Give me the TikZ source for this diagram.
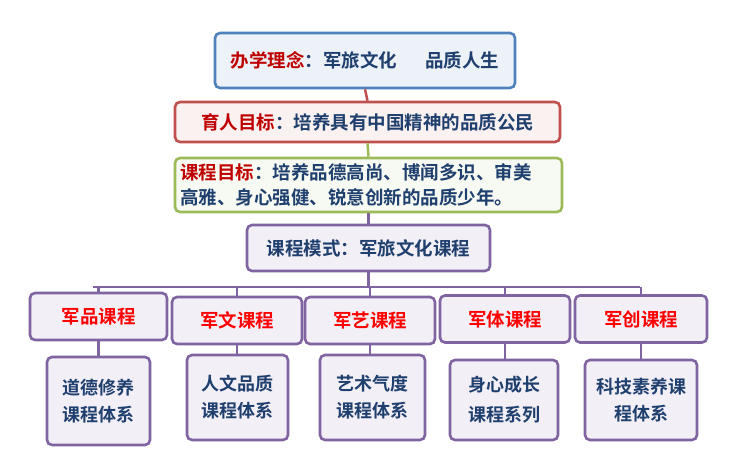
\documentclass[tikz,border=0pt]{standalone}
\usepackage{fontspec}
\setmainfont{Noto Sans CJK SC}[BoldFont={Noto Sans CJK SC Bold}]
\definecolor{dblue}{HTML}{1F3F6E}
\definecolor{bblue}{HTML}{4F81BD}
\definecolor{bred}{HTML}{C0504D}
\definecolor{bgreen}{HTML}{9BBB59}
\definecolor{bpurp}{HTML}{8064A2}
\begin{document}
\begin{tikzpicture}[x=1pt,y=-1pt,
  box/.style={draw=#1,line width=2.6pt,rounded corners=5pt,inner sep=2pt,font=\bfseries\fontsize{18.5}{25}\selectfont,text=dblue},
  con/.style={line width=2.5pt,draw=#1}]
\useasboundingbox (0,0) rectangle (741,463);
\node[box=bblue,fill=bblue!10,minimum width=300,minimum height=55] (a) at (365,60.5) {\textcolor{red!75!black}{办学理念}：军旅文化\hspace{1.5em}品质人生};
\node[box=bred,fill=bred!8,minimum width=385,minimum height=40] (b) at (367.5,122) {\textcolor{red!75!black}{育人目标}：培养具有中国精神的品质公民};
\node[box=bgreen,fill=bgreen!8,minimum width=387,minimum height=54,align=left,text width=377] (c) at (368.5,185) {\textcolor{red!75!black}{课程目标}：培养品德高尚、博闻多识、审美\\高雅、身心强健、锐意创新的品质少年。};
\node[box=bpurp,fill=bpurp!10,minimum width=243,minimum height=46] (d) at (368.5,248) {课程模式：军旅文化课程};
\draw[con=bred] (a.south) -- (b.north);
\draw[con=bgreen] (b.south) -- (c.north);
\draw[con=bpurp] (c.south) -- (d.north);
\coordinate (bl) at (93,287);
\coordinate (br) at (640,287);
\draw[con=bpurp] (d.south) -- (368.5,287);
\draw[con=bpurp] (bl) -- (br);
\foreach \n/\x/\y/\w/\t/\bx/\by/\bw/\bh/\bt in {
 1/98.5/316.5/137/军品课程/98.5/401/103/88/{道德修养\\课程体系},
 2/237/320.5/130/军文课程/237.5/397.5/101/85/{人文品质\\课程体系},
 3/370/320.5/130/军艺课程/372.5/397.5/105/85/{艺术气度\\课程体系},
 4/505/319/130/军体课程/504/400/108/80/{身心成长\\[3pt]课程系列},
 5/641/319/132/军创课程/641/400/112/80/{科技素养课\\程体系}}{
 \node[box=bpurp,fill=bpurp!10,minimum width=\w,minimum height=47,text=red] (t\n) at (\x,\y) {\t};
 \node[box=bpurp,fill=bpurp!10,minimum width=\bw,minimum height=\bh,align=center,font=\bfseries\fontsize{18}{27}\selectfont] (u\n) at (\bx,\by) {\bt};
 \draw[con=bpurp] (t\n.north) -- (t\n.north|-bl);
 \draw[con=bpurp] (t\n.south) -- (t\n.south|-u\n.north);
}
\end{tikzpicture}
\end{document}
